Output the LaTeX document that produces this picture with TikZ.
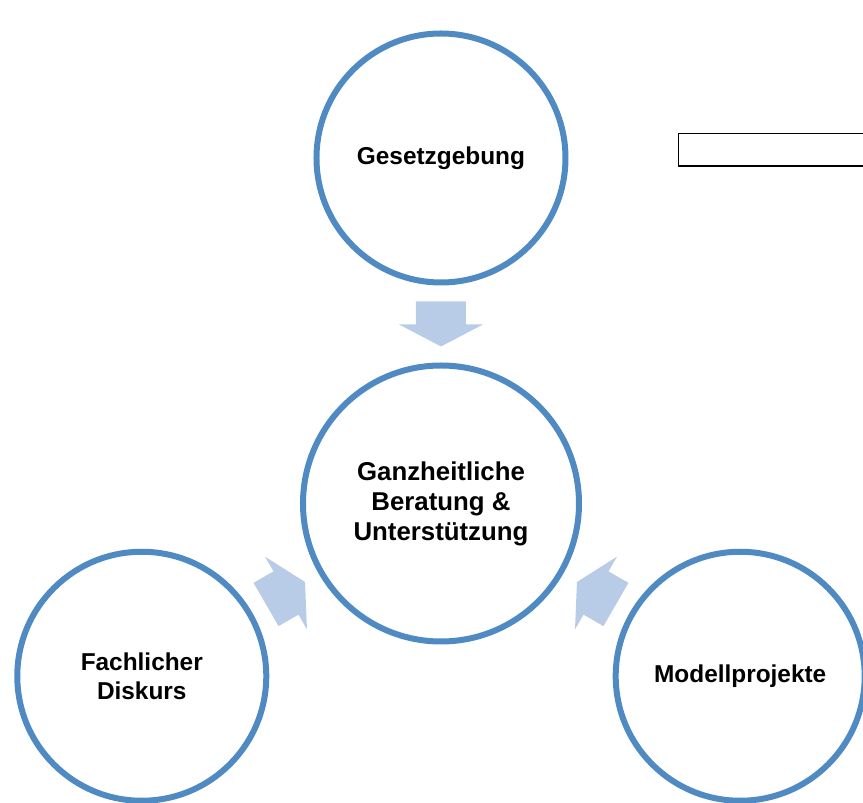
\documentclass[tikz,border=0pt]{standalone}
\usepackage{fontspec}
\setmainfont{Liberation Sans}
\usepackage{tikz}
\usetikzlibrary{calc}
\definecolor{ringblue}{HTML}{508AC2}
\definecolor{arrowblue}{HTML}{B8CCE8}

\begin{document}
\begin{tikzpicture}[x=1pt,y=1pt,node distance=345.5pt,font=\fontsize{24.4}{28.3}\selectfont\bfseries]
        \tikzstyle{ring}=[circle,draw=ringblue,line width=6pt,fill=white,align=center,inner sep=2pt,minimum size=249pt]
        \tikzset{flow/.pic={\fill[arrowblue] (-22.5,25) -- (0.5,25) -- (0.5,42) -- (22.5,0) -- (0.5,-42) -- (0.5,-25) -- (-22.5,-25) -- cycle;}}
        \useasboundingbox (-441,-299.5) rectangle (422,503.5);

        \node[ring,minimum size=276pt,font=\fontsize{25.8}{30}\selectfont\bfseries] (hub) at (0,0) {Ganzheitliche\\Beratung \&\\Unterstützung};
        \node[ring] (gesetz) [above of=hub] {Gesetzgebung};
        \node[ring] (diskurs) at (210:345.5) {Fachlicher\\Diskurs};
        \node[ring] (modell) at (330:345.5) {Modellprojekte};

        \pic[rotate=-90] at ($(gesetz.south)!0.5!(hub.north)$) {flow};
        \pic[rotate=30] at ($(diskurs.30)!0.5!(hub.210)$) {flow};
        \pic[rotate=150] at ($(modell.150)!0.5!(hub.330)$) {flow};

        \draw[line width=1.5pt] (237.5,370) rectangle (440,337.5);
    \end{tikzpicture}
\end{document}
